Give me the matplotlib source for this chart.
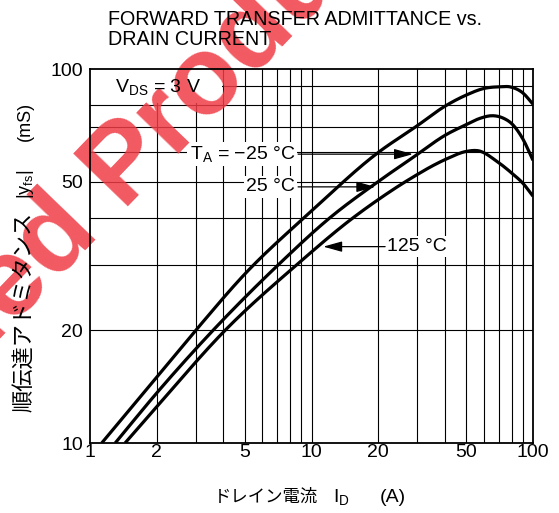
import numpy as np
import matplotlib
matplotlib.use('Agg')
import matplotlib.pyplot as plt
from matplotlib.patches import Rectangle
from matplotlib.ticker import NullLocator

plt.rcParams['font.family'] = ['Liberation Sans', 'Noto Sans CJK JP', 'DejaVu Sans']
plt.rcParams['mathtext.fontset'] = 'custom'
plt.rcParams['mathtext.rm'] = 'Liberation Sans'
plt.rcParams['mathtext.it'] = 'Liberation Sans:italic'
plt.rcParams['mathtext.default'] = 'regular'

# ---------------- data ----------------
id_m25 = [1.13, 2.0, 3.0, 5.0, 10.0, 20.0, 30.0, 40.0, 50.0, 60.0, 70.0, 80.0, 90.0, 100.0]
yfs_m25 = [10, 15.0, 20, 28.3, 41.7, 59.8, 70.5, 79.5, 85.2, 88.7, 89.6, 89.4, 86.3, 80.5]

id_25 = [1.30, 2.0, 3.59, 7.1, 12.1, 20.0, 28.7, 41.0, 50.0, 57.6, 66.0, 73.0, 81.0, 90.0, 100.0]
yfs_25 = [10, 13.6, 20, 30, 40, 50.0, 58, 67, 71, 73.8, 75, 74, 71, 65, 57]

id_125 = [1.44, 2.0, 4.07, 8.6, 15.4, 20.4, 25.6, 30.0, 35.0, 41.0, 50.0, 57.0, 68.8, 81.0, 90.0, 100.0]
yfs_125 = [10, 12.5, 20, 30, 40, 45.1, 49.3, 52.2, 55.0, 57.6, 60.2, 60.4, 56.6, 52.4, 49.5, 45.7]

x_ticks = [1, 2, 5, 10, 20, 50, 100]
x_ticklabels = ['1', '2', '5', '10', '20', '50', '100']
y_ticks = [10, 20, 50, 100]
y_ticklabels = ['10', '20', '50', '100']
x_grid = [2, 3, 4, 5, 6, 7, 8, 9, 10, 20, 30, 40, 50, 60, 70, 80, 90]
y_grid = [20, 30, 40, 50, 60, 70, 80, 90]

title_lines = ['FORWARD TRANSFER ADMITTANCE vs.', 'DRAIN CURRENT']


def smooth_loglog(xs, ys, n=300):
    """Smooth cubic Hermite path through the given points in log-log space."""
    lx = np.log10(np.asarray(xs, float))
    ly = np.log10(np.asarray(ys, float))
    h = np.diff(lx)
    d = np.diff(ly) / h
    m = np.empty_like(lx)
    m[0], m[-1] = d[0], d[-1]
    m[1:-1] = (d[:-1] * h[1:] + d[1:] * h[:-1]) / (h[:-1] + h[1:])
    out_x, out_y = [], []
    for i in range(len(h)):
        t = np.linspace(0, 1, max(int(n * h[i] / (lx[-1] - lx[0])), 8), endpoint=False)
        h00 = 2 * t**3 - 3 * t**2 + 1
        h10 = t**3 - 2 * t**2 + t
        h01 = -2 * t**3 + 3 * t**2
        h11 = t**3 - t**2
        yy = h00 * ly[i] + h10 * h[i] * m[i] + h01 * ly[i + 1] + h11 * h[i] * m[i + 1]
        out_x.append(lx[i] + t * h[i])
        out_y.append(yy)
    out_x.append([lx[-1]])
    out_y.append([ly[-1]])
    return 10 ** np.concatenate(out_x), 10 ** np.concatenate(out_y)


# ---------------- figure ----------------
W, H = 559, 513
fig = plt.figure(figsize=(W / 100, H / 100), dpi=100)
ax = fig.add_axes([90 / W, 1 - 443 / H, (533 - 90) / W, (443 - 69) / H])
ax.set_xscale('log')
ax.set_yscale('log')
ax.set_xlim(1, 100)
ax.set_ylim(10, 100)
ax.set_xticks(x_ticks)
ax.set_xticklabels(x_ticklabels)
ax.set_yticks(y_ticks)
ax.set_yticklabels(y_ticklabels)
ax.xaxis.set_minor_locator(NullLocator())
ax.yaxis.set_minor_locator(NullLocator())
ax.tick_params(axis='both', length=0, labelsize=14)
ax.tick_params(axis='x', pad=1)
ax.tick_params(axis='y', pad=5)
for s in ax.spines.values():
    s.set_linewidth(1.3)
    s.set_color('black')

# grid
for v in x_grid:
    ax.axvline(v, color='black', lw=0.8, zorder=0.2)
for v in y_grid:
    ax.axhline(v, color='black', lw=0.8, zorder=0.2)

# curves
for xs, ys in [(id_m25, yfs_m25), (id_25, yfs_25), (id_125, yfs_125)]:
    sx, sy = smooth_loglog(xs, ys)
    ax.plot(sx, sy, color='black', lw=2.3, solid_joinstyle='round',
            solid_capstyle='butt', zorder=2.5)

# white box behind V_DS label
ax.add_patch(Rectangle((1.0, 81.0), 2.95, 19.0, facecolor='white',
                       edgecolor='none', zorder=0.4))


def label(x, y, s, ha):
    ax.text(x, y, s, ha=ha, va='center', fontsize=14, color=(0, 0, 0, 0),
            bbox=dict(boxstyle='square,pad=0.12', fc='white', ec='none'),
            zorder=0.4)
    ax.text(x, y, s, ha=ha, va='center', fontsize=14, color='black', zorder=3)


ax.text(1.30, 89.5, r'V$_{DS}$ = 3 V', ha='left', va='center', fontsize=14,
        color='black', zorder=3)
label(8.43, 59.2, r'T$_A$ = −25 °C', 'right')
label(8.43, 48.4, '25 °C', 'right')
label(21.9, 33.5, '125 °C', 'left')

aprops = dict(arrowstyle='-|>,head_length=1.15,head_width=0.32', color='black',
              lw=0.9, shrinkA=0, shrinkB=0)
ax.annotate('', xy=(28.7, 59.2), xytext=(8.7, 59.2), arrowprops=aprops, zorder=2.6)
ax.annotate('', xy=(19.4, 48.4), xytext=(8.7, 48.4), arrowprops=aprops, zorder=2.6)
ax.annotate('', xy=(11.3, 33.5), xytext=(21.5, 33.5), arrowprops=aprops, zorder=2.6)

# watermark (red diagonal text)
ang = 46
th = np.deg2rad(ang)
fs_wm = 80
em = fs_wm * 100 / 72
bx, by = 121, 206
wm = dict(transform=fig.transFigure, rotation=ang, rotation_mode='anchor',
          va='baseline', fontsize=fs_wm, fontweight='bold', color='#f03c46',
          alpha=0.85, clip_on=False, zorder=0.6)
ax.text(bx / W, 1 - by / H, 'Product', ha='left', **wm)
sp = 0.278 * em
ax.text((bx - sp * np.cos(th)) / W, 1 - (by + sp * np.sin(th)) / H,
        'Discontinued', ha='right', **wm)

# title
fig.text(108 / W, 1 - 25 / H, title_lines[0], ha='left', va='baseline', fontsize=14.2)
fig.text(108 / W, 1 - 45 / H, title_lines[1], ha='left', va='baseline', fontsize=14.2)

# x label
fig.text(318 / W, 1 - 497 / H, 'ドレイン電流', ha='right', va='center', fontsize=12.5)
fig.text(333 / W, 1 - 497 / H, r'I$_D$', ha='left', va='center', fontsize=14)
fig.text(380 / W, 1 - 497 / H, '(A)', ha='left', va='center', fontsize=14)

# y label
yl = dict(rotation=90, rotation_mode='anchor', va='center', ha='left')
fig.text(25 / W, 1 - 412 / H, '順伝達アドミタンス', fontsize=16, **yl)
fig.text(25 / W, 1 - 199 / H, r'|y$_{fs}$|', fontsize=13, **yl)
fig.text(25 / W, 1 - 141 / H, '(mS)', fontsize=13, **yl)

fig.savefig('out.png', dpi=100)
